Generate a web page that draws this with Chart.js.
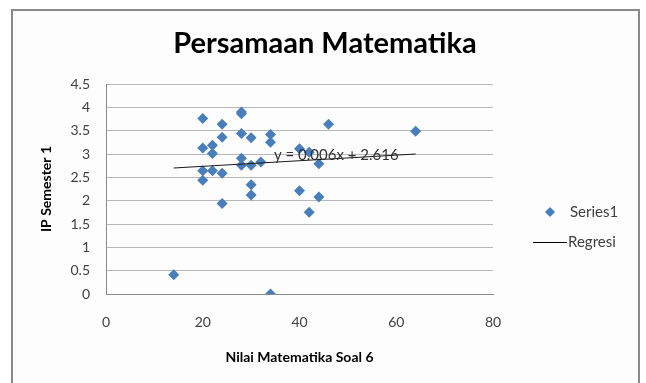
<!DOCTYPE html>
<html>
<head>
<meta charset="utf-8">
<script src="https://cdn.jsdelivr.net/npm/chart.js@4/dist/chart.umd.min.js"></script>
<style>
html,body{margin:0;padding:0;background:#ffffff;}
#wrap{width:646px;height:383px;position:relative;}
</style>
</head>
<body>
<div id="wrap"><canvas id="c" width="646" height="383"></canvas></div>
<script>
// Data
const chartTitle = "Persamaan Matematika";
const xAxisTitle = "Nilai Matematika Soal 6";
const yAxisTitle = "IP Semester 1";
const seriesName = "Series1";
const regressionName = "Regresi";
const regressionLabel = "y = 0.006x + 2.616";

const nilaiMatematika = [20, 24, 28, 28, 24, 28, 30, 34, 34, 20, 22, 22, 28, 28, 30, 32, 20, 20, 22, 24, 30, 30, 24, 46, 64, 40, 42, 44, 40, 44, 42, 14, 34];
const ipSemester = [3.76, 3.64, 3.9, 3.86, 3.36, 3.44, 3.35, 3.42, 3.25, 3.13, 3.19, 3.01, 2.91, 2.76, 2.76, 2.83, 2.64, 2.44, 2.64, 2.59, 2.34, 2.12, 1.94, 3.64, 3.49, 3.11, 3.04, 2.79, 2.21, 2.08, 1.75, 0.41, 0];

const regresiX = [14, 64];
const regresiY = [2.70, 3.00];

const xTicks = [0, 20, 40, 60, 80];
const yTicks = [0, 0.5, 1, 1.5, 2, 2.5, 3, 3.5, 4, 4.5];

const BLUE = "#4a7ebb";
const FONT = "Lato, 'Open Sans', sans-serif";

const scatterData = nilaiMatematika.map((x, i) => ({x: x, y: ipSemester[i]}));
const lineData = regresiX.map((x, i) => ({x: x, y: regresiY[i]}));

const framePlugin = {
  id: "frame",
  beforeDraw(chart) {
    const ctx = chart.ctx;
    ctx.save();
    ctx.fillStyle = "#fdfdfd";
    ctx.fillRect(12, 10, 627, 373);
    ctx.strokeStyle = "#8a8a8a";
    ctx.lineWidth = 2;
    ctx.beginPath();
    ctx.moveTo(12, 383);
    ctx.lineTo(12, 10);
    ctx.lineTo(639, 10);
    ctx.lineTo(639, 383);
    ctx.stroke();
    // chart title
    ctx.font = "bold 29px " + FONT;
    ctx.fillStyle = "#000000";
    ctx.textAlign = "center";
    ctx.textBaseline = "middle";
    ctx.fillText(chartTitle, 325, 44);
    ctx.restore();
  },
  afterDatasetsDraw(chart) {
    const ctx = chart.ctx;
    const xs = chart.scales.x, ys = chart.scales.y;
    ctx.save();
    // regression equation label
    ctx.font = "15px " + FONT;
    ctx.fillStyle = "#333333";
    ctx.textAlign = "center";
    ctx.textBaseline = "middle";
    ctx.fillText(regressionLabel, xs.getPixelForValue(47.6), ys.getPixelForValue(2.98));
    // legend
    const lx = 550, ly1 = 212, ly2 = 242;
    ctx.fillStyle = BLUE;
    ctx.beginPath();
    ctx.moveTo(lx, ly1 - 5);
    ctx.lineTo(lx + 5, ly1);
    ctx.lineTo(lx, ly1 + 5);
    ctx.lineTo(lx - 5, ly1);
    ctx.closePath();
    ctx.fill();
    ctx.strokeStyle = "#000000";
    ctx.lineWidth = 1;
    ctx.beginPath();
    ctx.moveTo(533, ly2 + 0.5);
    ctx.lineTo(567, ly2 + 0.5);
    ctx.stroke();
    ctx.font = "15px " + FONT;
    ctx.fillStyle = "#404040";
    ctx.textAlign = "left";
    ctx.textBaseline = "middle";
    ctx.fillText(seriesName, 570, ly1);
    ctx.fillText(regressionName, 568, ly2);
    ctx.restore();
  }
};

new Chart(document.getElementById("c"), {
  type: "scatter",
  data: {
    datasets: [
      {
        label: seriesName,
        data: scatterData,
        pointStyle: "rectRot",
        pointRadius: 5.5,
        pointHoverRadius: 5.5,
        backgroundColor: BLUE,
        borderColor: BLUE,
        borderWidth: 0,
        order: 2
      },
      {
        label: regressionName,
        type: "line",
        data: lineData,
        showLine: true,
        borderColor: "#1a1a1a",
        borderWidth: 1,
        pointRadius: 0,
        fill: false,
        order: 1
      }
    ]
  },
  options: {
    responsive: false,
    animation: false,
    layout: {padding: {left: 12, right: 153, top: 84, bottom: 5}},
    plugins: {
      legend: {display: false},
      tooltip: {enabled: false},
      title: {display: false}
    },
    scales: {
      x: {
        type: "linear",
        min: 0, max: 80,
        afterBuildTicks(scale) { scale.ticks = xTicks.map(v => ({value: v})); },
        afterFit(scale) { scale.height = 84; },
        grid: {display: true, drawOnChartArea: false, drawTicks: false, color: "#8a8a8a"},
        border: {display: true, color: "#8a8a8a", width: 1},
        ticks: {color: "#404040", font: {family: FONT, size: 14}, padding: 20, callback: v => String(v)},
        title: {display: true, text: xAxisTitle, color: "#000000", font: {family: FONT, size: 14, weight: "bold"}, padding: {top: 0, bottom: 12}}
      },
      y: {
        type: "linear",
        min: 0, max: 4.5,
        afterBuildTicks(scale) { scale.ticks = yTicks.map(v => ({value: v})); },
        afterFit(scale) { scale.width = 94; },
        grid: {color: "#b8b8b8", lineWidth: 1, drawTicks: false},
        border: {display: true, color: "#8a8a8a", width: 1},
        ticks: {color: "#404040", font: {family: FONT, size: 14}, padding: 16, callback: v => String(v)},
        title: {display: true, text: yAxisTitle, color: "#000000", font: {family: FONT, size: 14, weight: "bold"}, padding: {top: 26, bottom: 0}}
      }
    }
  },
  plugins: [framePlugin]
});
</script>
</body>
</html>
